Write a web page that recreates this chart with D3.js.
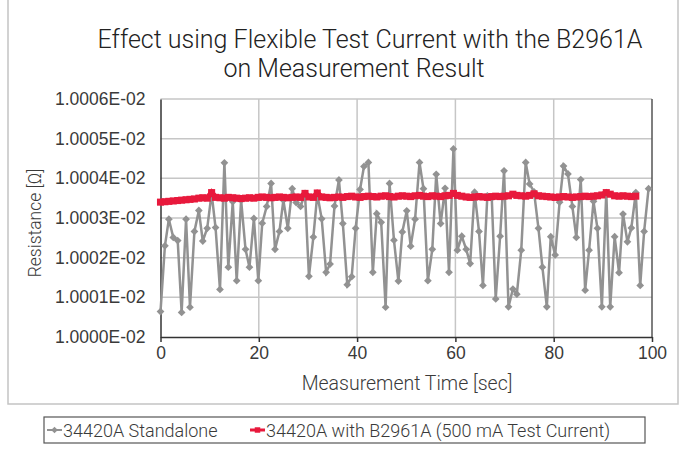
<!DOCTYPE html>
<html>
<head>
<meta charset="utf-8">
<script src="https://cdn.jsdelivr.net/npm/d3@7"></script>
<style>
  body { margin: 0; background: #fff; }
  svg { font-family: Roboto, "Open Sans", sans-serif; }
</style>
</head>
<body>
<div id="plot"></div>
<script>
// Chart values (resistance mantissa, x 1E-02 ohm)
const yTicks = [1.0000, 1.0001, 1.0002, 1.0003, 1.0004, 1.0005, 1.0006];
const xTicks = [0, 20, 40, 60, 80, 100];

const grayTime = [0.0, 0.9, 1.7, 2.6, 3.5, 4.3, 5.2, 6.0, 6.9, 7.8, 8.6, 9.5, 10.4, 11.2, 12.1, 13.0, 13.8, 14.7, 15.5, 16.4,
  17.3, 18.1, 19.0, 19.9, 20.7, 21.6, 22.5, 23.3, 24.2, 25.0, 25.9, 26.8, 27.6, 28.5, 29.4, 30.2, 31.1, 31.9, 32.8, 33.7,
  34.5, 35.4, 36.3, 37.1, 38.0, 38.9, 39.7, 40.6, 41.4, 42.3, 43.2, 44.0, 44.9, 45.8, 46.6, 47.5, 48.4, 49.2, 50.1, 50.9,
  51.8, 52.7, 53.5, 54.4, 55.3, 56.1, 57.0, 57.9, 58.7, 59.6, 60.4, 61.3, 62.2, 63.0, 63.9, 64.8, 65.6, 66.5, 67.4, 68.2,
  69.1, 69.9, 70.8, 71.7, 72.5, 73.4, 74.3, 75.1, 76.0, 76.9, 77.7, 78.6, 79.4, 80.3, 81.2, 82.0, 82.9, 83.8, 84.6, 85.5,
  86.4, 87.2, 88.1, 88.9, 89.8, 90.7, 91.5, 92.4, 93.3, 94.1, 95.0, 95.8, 96.7, 97.6, 98.4, 99.3];

const grayValue = [1.000064, 1.000230, 1.000297, 1.000251, 1.000243, 1.000062, 1.000297, 1.000075, 1.000266, 1.000319,
  1.000242, 1.000274, 1.000362, 1.000276, 1.000120, 1.000439, 1.000176, 1.000341, 1.000142, 1.000345,
  1.000221, 1.000176, 1.000299, 1.000142, 1.000287, 1.000329, 1.000387, 1.000221, 1.000266, 1.000345,
  1.000274, 1.000374, 1.000339, 1.000329, 1.000362, 1.000153, 1.000252, 1.000360, 1.000298, 1.000163,
  1.000184, 1.000330, 1.000396, 1.000286, 1.000132, 1.000152, 1.000274, 1.000372, 1.000430, 1.000440,
  1.000163, 1.000311, 1.000289, 1.000075, 1.000387, 1.000244, 1.000141, 1.000265, 1.000318, 1.000229,
  1.000297, 1.000440, 1.000374, 1.000142, 1.000221, 1.000410, 1.000286, 1.000375, 1.000163, 1.000474,
  1.000219, 1.000254, 1.000221, 1.000185, 1.000365, 1.000266, 1.000130, 1.000356, 1.000350, 1.000096,
  1.000254, 1.000419, 1.000076, 1.000121, 1.000108, 1.000219, 1.000440, 1.000386, 1.000366, 1.000274,
  1.000176, 1.000076, 1.000253, 1.000207, 1.000340, 1.000431, 1.000411, 1.000329, 1.000251, 1.000397,
  1.000118, 1.000219, 1.000342, 1.000274, 1.000076, 1.000364, 1.000076, 1.000253, 1.000162, 1.000310,
  1.000240, 1.000275, 1.000364, 1.000130, 1.000266, 1.000374];

const redValue = [1.000340, 1.000341, 1.000342, 1.000343, 1.000344, 1.000345, 1.000346, 1.000347, 1.000348, 1.000350,
  1.000351, 1.000350, 1.000364,
  1.000352, 1.000351, 1.000350, 1.000352, 1.000351, 1.000350, 1.000349, 1.000350, 1.000351, 1.000350, 1.000352,
  1.000353, 1.000352, 1.000351, 1.000352, 1.000353, 1.000352, 1.000351, 1.000352, 1.000353, 1.000352,
  1.000362, 1.000353, 1.000352, 1.000363,
  1.000353, 1.000352, 1.000351, 1.000352, 1.000353, 1.000352, 1.000354, 1.000355, 1.000353, 1.000352, 1.000354,
  1.000355, 1.000354, 1.000353, 1.000355, 1.000356, 1.000354, 1.000353, 1.000355, 1.000356, 1.000355, 1.000354,
  1.000356, 1.000357, 1.000355, 1.000354, 1.000356, 1.000355, 1.000354, 1.000356, 1.000357,
  1.000362,
  1.000357, 1.000355, 1.000353, 1.000352, 1.000353, 1.000354, 1.000353, 1.000352, 1.000354, 1.000355, 1.000354,
  1.000355, 1.000356,
  1.000360, 1.000357, 1.000356, 1.000355, 1.000357, 1.000361,
  1.000356, 1.000355, 1.000354, 1.000353, 1.000352, 1.000353, 1.000354, 1.000353, 1.000352, 1.000353, 1.000354,
  1.000355, 1.000354, 1.000355, 1.000356, 1.000358,
  1.000364, 1.000360, 1.000356, 1.000355, 1.000356, 1.000355, 1.000354, 1.000355];

const seriesNames = ["34420A Standalone", "34420A with B2961A (500 mA Test Current)"];
const seriesColors = ["#929292", "#e8193c"];

const width = 686;
const height = 460;
const plot = {left: 160.5, right: 652, top: 99, bottom: 337};

const svg = d3.select("#plot")
  .append("svg")
  .attr("width", width)
  .attr("height", height);

// outer chart frame
svg.append("path")
  .attr("d", `M8,0V404H678V0`)
  .attr("fill", "none")
  .attr("stroke", "#c4c4c4")
  .attr("stroke-width", 1.5);

const x = d3.scaleLinear().domain([0, 100]).range([plot.left, plot.right]);
const y = d3.scaleLinear().domain([1.0000, 1.0006]).range([plot.bottom, plot.top]);

// gridlines
svg.append("g")
  .selectAll("line")
  .data(yTicks.slice(1))
  .join("line")
  .attr("x1", plot.left).attr("x2", plot.right)
  .attr("y1", d => y(d)).attr("y2", d => y(d))
  .attr("stroke", "#c6c6c6")
  .attr("stroke-width", 1.5);

svg.append("g")
  .selectAll("line")
  .data(xTicks.slice(1, -1))
  .join("line")
  .attr("x1", d => x(d)).attr("x2", d => x(d))
  .attr("y1", plot.top).attr("y2", plot.bottom)
  .attr("stroke", "#c6c6c6")
  .attr("stroke-width", 1.5);

// right border
svg.append("line")
  .attr("x1", plot.right).attr("x2", plot.right)
  .attr("y1", plot.top).attr("y2", plot.bottom)
  .attr("stroke", "#555")
  .attr("stroke-width", 1.5);

// axes
const xAxis = svg.append("g")
  .attr("transform", `translate(0,${plot.bottom})`)
  .call(d3.axisBottom(x).tickValues(xTicks).tickSize(5).tickSizeOuter(0).tickPadding(5));

const yAxis = svg.append("g")
  .attr("transform", `translate(${plot.left},0)`)
  .call(d3.axisLeft(y).tickValues(yTicks).tickSize(0).tickPadding(15)
    .tickFormat(d => d3.format(".4f")(d) + "E-02"));

[xAxis, yAxis].forEach(a => {
  a.select(".domain").attr("stroke", "#333").attr("stroke-width", 1.5);
  a.selectAll(".tick line").attr("stroke", "#333").attr("stroke-width", 1.5);
  a.selectAll("text")
    .attr("fill", "#3a3a3a")
    .style("font-size", "17.5px")
    .style("font-weight", 300);
});

// axis titles
svg.append("text")
  .attr("x", 407).attr("y", 390)
  .attr("text-anchor", "middle")
  .attr("fill", "#3a3a3a")
  .style("font-size", "19.5px")
  .style("font-weight", 300)
  .text("Measurement Time [sec]");

svg.append("text")
  .attr("transform", "translate(41,223) rotate(-90)")
  .attr("text-anchor", "middle")
  .attr("fill", "#3a3a3a")
  .style("font-size", "17.5px")
  .style("font-weight", 300)
  .text("Resistance [Ω]");

// chart title
const titleLines = ["Effect using Flexible Test Current with the B2961A", "on Measurement Result"];
svg.append("g")
  .selectAll("text")
  .data(titleLines)
  .join("text")
  .attr("x", (d, i) => i ? 354 : 370)
  .attr("y", (d, i) => 48 + i * 29)
  .attr("text-anchor", "middle")
  .attr("fill", "#222")
  .style("font-size", "25px")
  .style("font-weight", 300)
  .text(d => d);

// series
const grayData = grayTime.map((t, i) => ({t: t, v: grayValue[i]}));
const redData = redValue.map((v, i) => ({t: grayTime[i], v: v}));

const line = d3.line().x(d => x(d.t)).y(d => y(d.v));

svg.append("path")
  .datum(grayData)
  .attr("d", line)
  .attr("fill", "none")
  .attr("stroke", seriesColors[0])
  .attr("stroke-width", 2.5);

svg.append("g")
  .selectAll("path")
  .data(grayData)
  .join("path")
  .attr("transform", d => `translate(${x(d.t)},${y(d.v)}) rotate(45)`)
  .attr("d", d3.symbol(d3.symbolSquare, 30))
  .attr("fill", seriesColors[0]);

svg.append("path")
  .datum(redData)
  .attr("d", line)
  .attr("fill", "none")
  .attr("stroke", seriesColors[1])
  .attr("stroke-width", 5.5);

svg.append("g")
  .selectAll("path")
  .data(redData)
  .join("path")
  .attr("transform", d => `translate(${x(d.t)},${y(d.v)})`)
  .attr("d", d3.symbol(d3.symbolSquare, 50))
  .attr("fill", seriesColors[1]);

// legend
svg.append("rect")
  .attr("x", 44).attr("y", 417)
  .attr("width", 601).attr("height", 26)
  .attr("fill", "#fff")
  .attr("stroke", "#555")
  .attr("stroke-width", 1.2);

const legendX = [47, 250];
const legend = svg.append("g");

legend.selectAll("line")
  .data(seriesNames)
  .join("line")
  .attr("x1", (d, i) => legendX[i]).attr("x2", (d, i) => legendX[i] + 15)
  .attr("y1", 430).attr("y2", 430)
  .attr("stroke", (d, i) => seriesColors[i])
  .attr("stroke-width", (d, i) => i ? 3 : 2);

legend.selectAll("path")
  .data(seriesNames)
  .join("path")
  .attr("transform", (d, i) => `translate(${legendX[i] + 7.5},430) rotate(${i ? 0 : 45})`)
  .attr("d", (d, i) => d3.symbol(d3.symbolSquare, i ? 30 : 22)())
  .attr("fill", (d, i) => seriesColors[i]);

legend.selectAll("text")
  .data(seriesNames)
  .join("text")
  .attr("x", (d, i) => legendX[i] + 16)
  .attr("y", 436.5)
  .attr("fill", "#3a3a3a")
  .style("font-size", "18px")
  .style("font-weight", 300)
  .text(d => d);
</script>
</body>
</html>
